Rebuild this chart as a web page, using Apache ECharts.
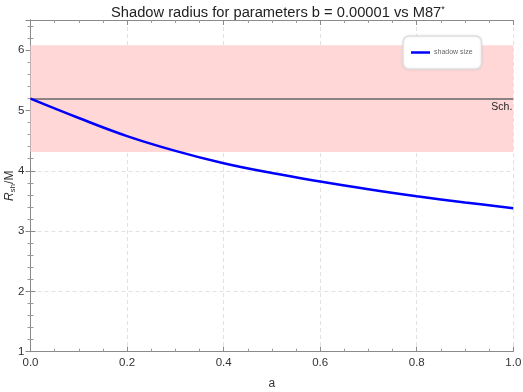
<!DOCTYPE html>
<html>
<head>
<meta charset="utf-8">
<script src="https://cdn.jsdelivr.net/npm/echarts@6/dist/echarts.min.js"></script>
<style>
  html, body { margin: 0; padding: 0; background: #fff; }
  #chart { width: 523px; height: 392px; }
</style>
</head>
<body>
<div id="chart"></div>
<script>
// spin parameter a and shadow radius
const spinA = [0, 0.1, 0.2, 0.3, 0.4, 0.5, 0.6, 0.7, 0.8, 0.9, 1.0]
const shadowR = [5.196, 4.875, 4.575, 4.33, 4.125, 3.962, 3.822, 3.693, 3.578, 3.475, 3.38]
// Schwarzschild value and M87* band
const schR = 5.196
const m87Band = [4.31, 6.08]
const yTicks = [1, 2, 3, 4, 5, 6]

const chart = echarts.init(document.getElementById('chart'))
const font = 'Liberation Sans, Arial, sans-serif'

const axisCommon = {
  axisLine: { show: true, lineStyle: { color: '#8a8a8a', width: 1 } },
  axisTick: { show: true, inside: true, length: 5, lineStyle: { color: '#8a8a8a' } },
  minorTick: { show: true, length: 3, lineStyle: { color: '#9a9a9a' } }
}

const option = {
  animation: false,
  textStyle: { fontFamily: font },
  title: {
    text: '{t|Shadow radius for parameters b = 0.00001 vs M87}{s|*}',
    left: 106,
    top: 0,
    textStyle: {
      rich: {
        t: { fontSize: 14.7, fontWeight: 'normal', color: '#222', fontFamily: font },
        s: { fontSize: 9, fontWeight: 'normal', color: '#222', fontFamily: font, verticalAlign: 'top', padding: [0, 0, 6, 0] }
      }
    }
  },
  legend: {
    left: 403,
    top: 36,
    orient: 'vertical',
    padding: [13, 9, 13, 8],
    backgroundColor: '#fff',
    borderColor: '#dedede',
    borderWidth: 1.5,
    borderRadius: 6,
    shadowColor: 'rgba(0,0,0,0.08)',
    shadowBlur: 3,
    icon: 'rect',
    itemWidth: 19,
    itemHeight: 2.5,
    itemGap: 0,
    textStyle: { fontSize: 7, color: '#666', padding: [0, 0, 0, -1] },
    data: ['shadow size']
  },
  grid: { left: 30.5, right: 9.7, top: 20, bottom: 40.3, containLabel: false, outerBoundsMode: 'none' },
  xAxis: [
    Object.assign({}, axisCommon, {
      type: 'value',
      min: 0,
      max: 1,
      interval: 0.2,
      name: 'a',
      nameLocation: 'middle',
      nameGap: 26,
      nameTextStyle: { fontSize: 12, color: '#333' },
      minorTick: Object.assign({}, axisCommon.minorTick, { splitNumber: 4 }),
      axisLabel: { fontSize: 11.5, color: '#333', margin: 5, formatter: v => v.toFixed(1) },
      splitLine: { show: true, lineStyle: { color: '#e2e2e2', type: [4, 3] } }
    }),
    Object.assign({}, axisCommon, {
      type: 'value',
      position: 'top',
      min: 0,
      max: 1,
      interval: 0.2,
      minorTick: Object.assign({}, axisCommon.minorTick, { splitNumber: 4 }),
      axisLabel: { show: false },
      splitLine: { show: false }
    })
  ],
  yAxis: [
    Object.assign({}, axisCommon, {
      type: 'value',
      min: yTicks[0],
      max: 6.5,
      interval: 1,
      name: '{r|R}{sub|sh}{m|/M}',
      nameLocation: 'middle',
      nameRotate: 90,
      nameGap: 21,
      nameMoveOverlap: false,
      nameTextStyle: {
        align: 'center',
        verticalAlign: 'middle',
        padding: [0, 0, 0, 0],
        rich: {
          r: { fontSize: 12, fontStyle: 'italic', color: '#333', fontFamily: font },
          sub: { fontSize: 8, color: '#333', fontFamily: font, padding: [6, 0, 0, 0] },
          m: { fontSize: 12, color: '#333', fontFamily: font }
        }
      },
      minorTick: Object.assign({}, axisCommon.minorTick, { splitNumber: 5 }),
      axisLabel: {
        fontSize: 11.5,
        color: '#333',
        margin: 6,
        showMaxLabel: false,
        formatter: v => (yTicks.indexOf(v) >= 0 ? String(v) : '')
      },
      splitLine: { show: true, lineStyle: { color: '#e2e2e2', type: [4, 3] } }
    }),
    Object.assign({}, axisCommon, {
      type: 'value',
      position: 'right',
      min: yTicks[0],
      max: 6.5,
      interval: 1,
      minorTick: Object.assign({}, axisCommon.minorTick, { splitNumber: 5 }),
      axisLabel: { show: false },
      splitLine: { show: false }
    })
  ],
  series: [
    {
      name: 'shadow size',
      type: 'line',
      smooth: 0.4,
      showSymbol: false,
      color: '#0000ff',
      lineStyle: { color: '#0000ff', width: 2.5 },
      data: spinA.map((a, i) => [a, shadowR[i]]),
      z: 5,
      markArea: {
        silent: true,
        itemStyle: { color: '#ffd7d7' },
        data: [[{ yAxis: m87Band[0] }, { yAxis: m87Band[1] }]]
      },
      markLine: {
        silent: true,
        symbol: 'none',
        lineStyle: { color: '#666', width: 1.5, type: 'solid' },
        label: {
          show: true,
          position: 'insideEndBottom',
          formatter: 'Sch.',
          fontSize: 10.5,
          color: '#222',
          distance: [1, 3]
        },
        data: [{ yAxis: schR }]
      }
    }
  ]
}

chart.setOption(option)
</script>
</body>
</html>
